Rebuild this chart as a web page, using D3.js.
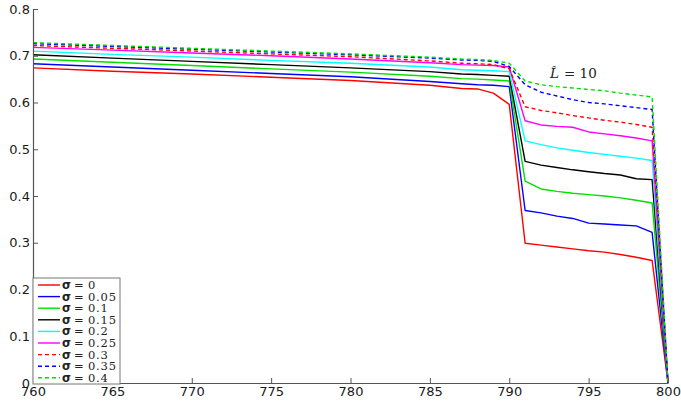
<!DOCTYPE html>
<html>
<head>
<meta charset="utf-8">
<script src="https://cdn.jsdelivr.net/npm/d3@7/dist/d3.min.js"></script>
<style>
  html, body { margin: 0; padding: 0; background: #fff; }
  svg { display: block; }
</style>
</head>
<body>
<svg id="chart" width="681" height="402"></svg>
<script>
// ---- data ----
const xValues = [760, 765, 770, 775, 780, 785, 787, 788, 789, 790, 791, 792, 793, 794, 795, 796, 797, 798, 799, 800];
const sigmaLabels = ["0", "0.05", "0.1", "0.15", "0.2", "0.25", "0.3", "0.35", "0.4"];
const sigma000 = [0.674, 0.667, 0.661, 0.654, 0.647, 0.637, 0.630, 0.629, 0.620, 0.596, 0.299, 0.295, 0.291, 0.287, 0.283, 0.280, 0.275, 0.269, 0.262, 0];
const sigma005 = [0.683, 0.676, 0.669, 0.662, 0.655, 0.645, 0.640, 0.638, 0.637, 0.634, 0.369, 0.364, 0.357, 0.352, 0.342, 0.340, 0.338, 0.336, 0.322, 0];
const sigma010 = [0.693, 0.686, 0.679, 0.672, 0.665, 0.656, 0.651, 0.650, 0.648, 0.646, 0.432, 0.415, 0.410, 0.406, 0.403, 0.400, 0.396, 0.391, 0.385, 0];
const sigma015 = [0.702, 0.695, 0.688, 0.681, 0.674, 0.666, 0.661, 0.660, 0.658, 0.656, 0.474, 0.466, 0.461, 0.456, 0.452, 0.448, 0.445, 0.437, 0.435, 0];
const sigma020 = [0.710, 0.703, 0.697, 0.690, 0.684, 0.676, 0.670, 0.669, 0.668, 0.666, 0.518, 0.510, 0.503, 0.498, 0.493, 0.489, 0.485, 0.481, 0.476, 0];
const sigma025 = [0.718, 0.712, 0.706, 0.700, 0.693, 0.685, 0.681, 0.680, 0.679, 0.676, 0.561, 0.552, 0.549, 0.547, 0.537, 0.533, 0.529, 0.524, 0.518, 0];
const sigma030 = [0.722, 0.716, 0.710, 0.704, 0.698, 0.689, 0.684, 0.683, 0.681, 0.672, 0.591, 0.583, 0.578, 0.572, 0.567, 0.562, 0.558, 0.553, 0.547, 0];
const sigma035 = [0.726, 0.720, 0.714, 0.708, 0.702, 0.695, 0.691, 0.690, 0.688, 0.677, 0.638, 0.622, 0.614, 0.606, 0.600, 0.597, 0.593, 0.589, 0.585, 0];
const sigma040 = [0.728, 0.722, 0.716, 0.710, 0.704, 0.697, 0.693, 0.692, 0.690, 0.684, 0.646, 0.638, 0.634, 0.631, 0.628, 0.625, 0.620, 0.616, 0.612, 0];
const seriesValues = [sigma000, sigma005, sigma010, sigma015, sigma020, sigma025, sigma030, sigma035, sigma040];
const xTicks = [760, 765, 770, 775, 780, 785, 790, 795, 800];
const xTickLabels = ["760", "765", "770", "775", "780", "785", "790", "795", "800"];
const yTicks = [0, 0.1, 0.2, 0.3, 0.4, 0.5, 0.6, 0.7, 0.8];
const yTickLabels = ["0", "0.1", "0.2", "0.3", "0.4", "0.5", "0.6", "0.7", "0.8"];
const annotationLabel = "L\u0302";
const annotationValue = "= 10";

// ---- styles ----
const colors = ["#ff0000", "#0000ff", "#00e000", "#000000", "#00ffff", "#ff00ff", "#ff0000", "#0000ff", "#00e000"];
const dashes = [null, null, null, null, null, null, "4,3", "4,3", "4,3"];

// ---- layout ----
const svg = d3.select("#chart");
const mLeft = 33, mRight = 668, mTop = 9, mBottom = 383;

const x = d3.scaleLinear().domain([760, 800]).range([mLeft, mRight]);
const y = d3.scaleLinear().domain([0, 0.8]).range([mBottom, mTop]);

// lines
const line = d3.line().x((d, i) => x(xValues[i])).y(d => y(d));
const linesG = svg.append("g");
seriesValues.forEach((vals, k) => {
  linesG.append("path")
    .datum(vals)
    .attr("d", line)
    .attr("fill", "none")
    .attr("stroke", colors[k])
    .attr("stroke-width", 1.4)
    .attr("stroke-dasharray", dashes[k])
    .attr("stroke-linejoin", "round");
});

// axes
const xAxis = d3.axisBottom(x).tickValues(xTicks)
  .tickFormat((d, i) => xTickLabels[i]).tickSizeInner(-5).tickSizeOuter(0).tickPadding(4);
const yAxis = d3.axisLeft(y).tickValues(yTicks)
  .tickFormat((d, i) => yTickLabels[i]).tickSizeInner(-5).tickSizeOuter(0).tickPadding(3);

const gx = svg.append("g").attr("transform", `translate(0,${mBottom})`).call(xAxis);
const gy = svg.append("g").attr("transform", `translate(${mLeft},0)`).call(yAxis);
[gx, gy].forEach(g => {
  g.select(".domain").attr("stroke", "#555").attr("stroke-width", 1.2);
  g.selectAll(".tick line").attr("stroke", "#555").attr("stroke-width", 1);
  g.selectAll(".tick text")
    .attr("font-family", "'DejaVu Sans', sans-serif")
    .attr("font-size", 13)
    .attr("fill", "#1a1a1a");
});

// legend
const legX = mLeft, legY = 278, legW = 87, legH = 106, rowH = 11.6;
const leg = svg.append("g");
leg.append("rect")
  .attr("x", legX).attr("y", legY).attr("width", legW).attr("height", legH)
  .attr("fill", "#fff").attr("stroke", "#777").attr("stroke-width", 1);
sigmaLabels.forEach((lab, k) => {
  const cy = legY + 7 + k * rowH;
  leg.append("line")
    .attr("x1", legX + 5).attr("x2", legX + 27)
    .attr("y1", cy).attr("y2", cy)
    .attr("stroke", colors[k]).attr("stroke-width", 1.4)
    .attr("stroke-dasharray", dashes[k]);
  const t = leg.append("text")
    .attr("y", cy + 4)
    .attr("font-size", 11.5)
    .attr("fill", "#222");
  t.append("tspan").attr("x", legX + 29)
    .attr("font-family", "'DejaVu Sans', sans-serif").attr("font-weight", "bold").text("σ");
  t.append("tspan").attr("x", legX + 41)
    .attr("font-family", "'DejaVu Serif', serif").text("=");
  t.append("tspan").attr("x", legX + 55)
    .attr("font-family", "'DejaVu Serif', serif").attr("letter-spacing", 0.8).text(lab);
});

// annotation
const ann = svg.append("text")
  .attr("y", 78)
  .attr("font-family", "'DejaVu Serif', serif")
  .attr("font-size", 13.5)
  .attr("fill", "#222");
ann.append("tspan").attr("x", 550).attr("font-style", "italic").text(annotationLabel);
ann.append("tspan").attr("x", 564).text(annotationValue);
</script>
</body>
</html>
